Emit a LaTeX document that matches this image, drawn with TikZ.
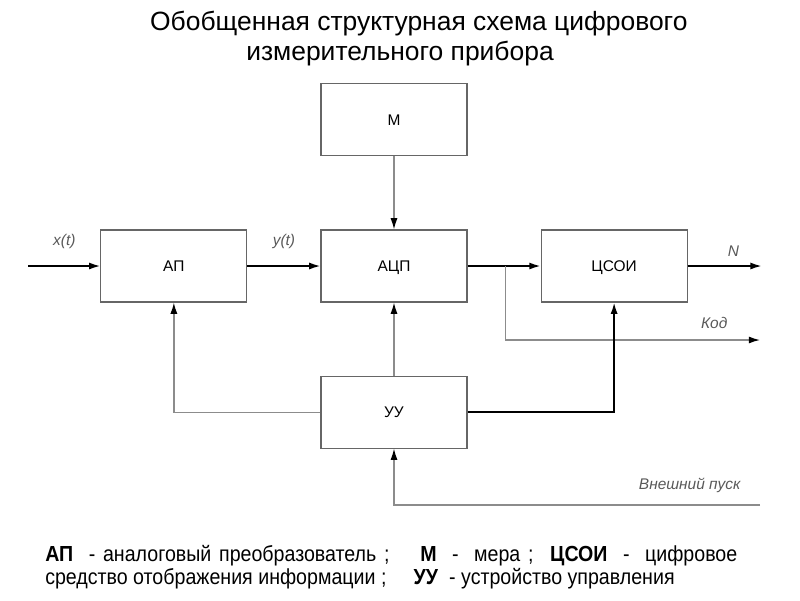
\documentclass[tikz,border=0pt]{standalone}
\usepackage{fontspec}
\setmainfont{Liberation Sans}
\newfontfamily\legendfont[FakeStretch=0.9]{Liberation Sans}
\usetikzlibrary{positioning, arrows.meta}
\definecolor{boxclr}{rgb}{0.4, 0.4, 0.4}
\definecolor{wireclr}{rgb}{0.55, 0.55, 0.55}
\definecolor{sigclr}{rgb}{0.35, 0.35, 0.35}
\tikzset{ %
  ,>={Latex[length=8pt, width=5pt, color=black]}
  ,block/.style={draw=boxclr, line width=0.8pt, rectangle, inner sep=0, minimum width=3.65cm, minimum height=1.8cm, node distance=1.825cm, text height=8pt, text depth=0pt, font=\fontsize{11}{13}\selectfont}
  ,sig/.style={inner sep=0, text=sigclr, font=\fontsize{11}{13}\selectfont\itshape}
  ,bus/.style={line width=1.2pt}
  ,wire/.style={draw=wireclr, line width=0.9pt}
  ,title/.style={inner sep=0, font=\fontsize{18.8}{22}\selectfont}
}

\begin{document}
\begin{tikzpicture}
      \useasboundingbox (0,0) rectangle (20,-15);
      \node[title] (t1) at (10.47,-0.6) {Обобщенная структурная схема цифрового};
      \node[title] (t2) at (10.0,-1.35) {измерительного прибора};
      \draw
      node[block] at (9.85,-6.65) (ADC) {АЦП}
      node[block,left=of ADC] (AP) {АП}
      node[block,right=of ADC] (CSOI) {ЦСОИ}
      node[block,above=of ADC] (M) {М}
      node[block,below=of ADC] (UU) {УУ};
      \coordinate[left=1.8cm of AP] (xin);
      \coordinate[right=1.85cm of CSOI] (nout);
      \coordinate[right=0.95cm of ADC] (fork);
      \coordinate (kod) at (19,-8.5);
      \coordinate (start) at (19,-12.625);
      % signal path
      \draw [->, bus] (xin) -- node[sig, above=0.42cm] {x(t)} (AP);
      \draw [->, bus] (AP) -- node[sig, above=0.42cm] {y(t)} (ADC);
      \draw [->, bus] (ADC) -- (CSOI);
      \draw [->, bus] (CSOI) -- node[sig, pos=0.62, above=0.22cm] {N} (nout);
      \draw [->, wire] (M) -- (ADC);
      \draw [->, wire] (UU) -- (ADC);
      \draw [->, wire] (fork) |- node[sig, pos=0.91, above=0.28cm] {Код} (kod);
      % control lines
      \draw [->, wire] (UU.west) -| (AP.south);
      \draw [->, bus] (UU.east) -| (CSOI.south);
      \draw [->, wire] (start) -| node[sig, pos=0.096, above=0.3cm] {Внешний пуск} (UU.south);
      % legend
      \node[anchor=north west, inner sep=0, text width=17.3cm, align=justify, font=\legendfont\fontsize{15.5}{16.4}\selectfont] (legend) at (1.125,-13.62)
      {\textbf{АП} \ - аналоговый преобразователь ; \quad \textbf{М} \ - \ мера ; \ \textbf{ЦСОИ} \ - \ цифровое\linebreak средство отображения информации ; \quad \textbf{УУ} \ - устройство управления};
    \end{tikzpicture}
\end{document}
